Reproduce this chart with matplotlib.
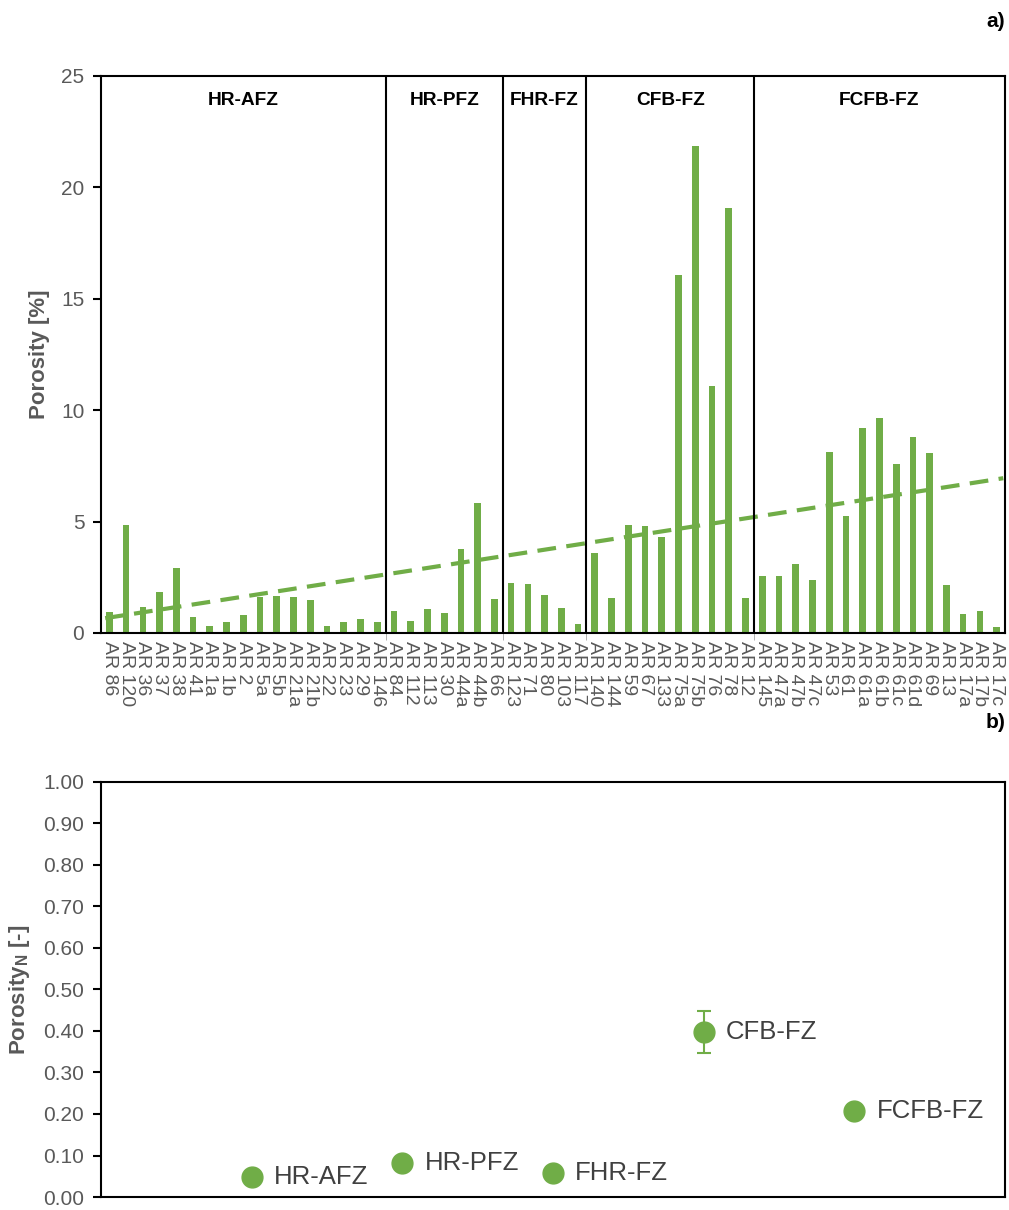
import numpy as np
import matplotlib
matplotlib.use("Agg")
import matplotlib.pyplot as plt

plt.rcParams['font.family'] = ['Liberation Sans', 'DejaVu Sans']
plt.rcParams['mathtext.fontset'] = 'custom'
plt.rcParams['mathtext.rm'] = 'Liberation Sans'
plt.rcParams['mathtext.bf'] = 'Liberation Sans:bold'

GREEN = '#70AD47'
GREY = '#595959'

# Panel a data: samples grouped by zone
groups = ['HR-AFZ', 'HR-PFZ', 'FHR-FZ', 'CFB-FZ', 'FCFB-FZ']
samples = ['AR 86', 'AR 120', 'AR 36', 'AR 37', 'AR 38', 'AR 41', 'AR 1a', 'AR 1b', 'AR 2',
           'AR 5a', 'AR 5b', 'AR 21a', 'AR 21b', 'AR 22', 'AR 23', 'AR 29', 'AR 146',
           'AR 84', 'AR 112', 'AR 113', 'AR 30', 'AR 44a', 'AR 44b', 'AR 66',
           'AR 123', 'AR 71', 'AR 80', 'AR 103', 'AR 117',
           'AR 140', 'AR 144', 'AR 59', 'AR 67', 'AR 133', 'AR 75a', 'AR 75b', 'AR 76', 'AR 78', 'AR 12',
           'AR 145', 'AR 47a', 'AR 47b', 'AR 47c', 'AR 53', 'AR 61', 'AR 61a', 'AR 61b', 'AR 61c',
           'AR 61d', 'AR 69', 'AR 13', 'AR 17a', 'AR 17b', 'AR 17c']
group_sizes = [17, 7, 5, 10, 15]
porosity = [0.96, 4.85, 1.18, 1.84, 2.9, 0.73, 0.31, 0.49, 0.81, 1.63, 1.66, 1.6, 1.48, 0.31, 0.49, 0.64, 0.49,
            1.0, 0.54, 1.09, 0.91, 3.77, 5.82, 1.51,
            2.26, 2.2, 1.69, 1.14, 0.39,
            3.6, 1.56, 4.85, 4.8, 4.3, 16.05, 21.86, 11.09, 19.06, 1.57,
            2.57, 2.57, 3.1, 2.39, 8.11, 5.24, 9.21, 9.64, 7.6, 8.8, 8.07, 2.15, 0.85, 1.0, 0.26]

# Panel b data: normalised porosity per zone
zone_porosity_n = [0.048, 0.082, 0.058, 0.398, 0.207]
zone_err = [0.0, 0.0, 0.0, 0.05, 0.012]

fig = plt.figure(figsize=(10.09, 12.10), dpi=100)

# ---------------- panel a ----------------
ax = fig.add_axes([0.1001, 0.4769, 0.8959, 0.4603])
x = np.arange(1, len(samples) + 1)
ax.bar(x, porosity, width=0.4, color=GREEN, zorder=2)

# linear trendline
k, b = np.polyfit(x, porosity, 1)
xt = np.array([0.75, len(samples) + 0.4])
ax.plot(xt, k * xt + b, ls=(0, (4.5, 2.5)), color=GREEN, lw=3, zorder=3)

bounds = np.cumsum(group_sizes) + 0.5
starts = np.concatenate([[0.5], bounds[:-1]])
for bd in bounds[:-1]:
    ax.axvline(bd, color='black', lw=1.5, zorder=4)
for g, s, e in zip(groups, starts, bounds):
    ax.text((s + e) / 2, 23.9, g, ha='center', va='center', fontsize=13.8, fontweight='bold')

ax.set_xlim(0.5, len(samples) + 0.5)
ax.set_ylim(0, 25)
ax.set_yticks([0, 5, 10, 15, 20, 25])
ax.set_xticks(x)
ax.set_xticklabels(samples, rotation=-90, fontsize=14, color=GREY, va='top', ha='center')
ax.tick_params(axis='x', length=0, pad=6)
ax.set_xticks(bounds[:-1], minor=True)
ax.tick_params(axis='x', which='minor', length=5, color='#A6A6A6')
ax.tick_params(axis='y', labelsize=15, labelcolor=GREY, length=6, width=1.5, direction='out', pad=6)
ax.set_ylabel('Porosity [%]', fontsize=16, fontweight='bold', color=GREY, labelpad=8)
for sp in ax.spines.values():
    sp.set_linewidth(1.5)

fig.text(0.996, 0.982, 'a)', ha='right', va='center', fontsize=15, fontweight='bold')

# ---------------- panel b ----------------
bx = fig.add_axes([0.1001, 0.01074, 0.8959, 0.343])
xb = np.arange(1, len(groups) + 1)
bx.errorbar(xb, zone_porosity_n, yerr=zone_err, fmt='o', color=GREEN, ms=15,
            ecolor=GREEN, elinewidth=1.5, capsize=5, capthick=1.5, zorder=3)
for xi, yi, g in zip(xb, zone_porosity_n, groups):
    bx.annotate(g, (xi, yi), xytext=(16, 0), textcoords='offset points',
                ha='left', va='center', fontsize=18.5, color='#404040')

bx.set_xlim(0, 6)
bx.set_ylim(0, 1)
bx.set_yticks(np.arange(0, 1.01, 0.1))
bx.set_yticklabels([f'{v:.2f}' for v in np.arange(0, 1.01, 0.1)])
bx.set_xticks([])
bx.tick_params(axis='y', labelsize=15, labelcolor=GREY, length=6, width=1.5, direction='out', pad=6)
bx.set_ylabel(r'Porosity$_\mathbf{N}$ [-]', fontsize=16, fontweight='bold', color=GREY, labelpad=8)
for sp in bx.spines.values():
    sp.set_linewidth(1.5)

fig.text(0.996, 0.403, 'b)', ha='right', va='center', fontsize=15, fontweight='bold')

fig.savefig('out.png', dpi=100)
